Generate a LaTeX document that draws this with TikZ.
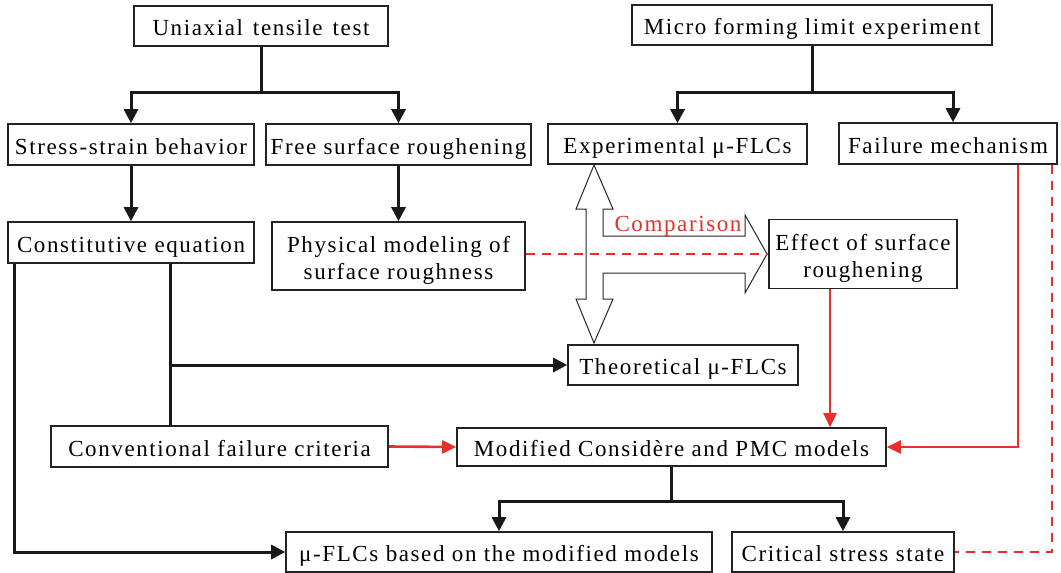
\documentclass[tikz,border=0pt]{standalone}
\usepackage{fontspec}
\setmainfont[LetterSpace=7]{Liberation Serif}
\usetikzlibrary{arrows.meta}
\definecolor{myred}{RGB}{228,50,42}
\definecolor{boxline}{RGB}{35,35,35}
\begin{document}
\begin{tikzpicture}[x=1pt,y=-1pt,
  box/.style={draw=boxline, line width=1.6pt, inner sep=0pt, align=center,
    font=\fontsize{23}{27}\selectfont, text height=20pt, text depth=1pt},
  twoline/.style={text height=47pt, text depth=1pt},
  blk/.style={line width=3pt, black!90},
  conn/.style={blk, -{Triangle[length=14pt,width=14pt]}},
  redconn/.style={line width=2.6pt, myred, -{Triangle[length=14pt,width=13pt]}},
  reddash/.style={line width=2.4pt, myred, dash pattern=on 9pt off 7pt},
  hollow/.style={draw=black!85, line width=1pt, line join=miter}]
\useasboundingbox (0,0) rectangle (1061,573);
\fill[white] (0,0) rectangle (1061,573);

% boxes
\node[box, minimum width=254pt, minimum height=40pt] (uni) at (261,26) {Uniaxial\hspace{10pt}tensile\hspace{10pt}test};
\node[box, minimum width=360pt, minimum height=40pt] (micro) at (812,25) {Micro forming limit experiment};
\node[box, minimum width=246pt, minimum height=41pt] (ss) at (131,144.5) {Stress-strain behavior};
\node[box, minimum width=265pt, minimum height=41pt] (fsr) at (398.5,144.5) {Free surface roughening};
\node[box, minimum width=259pt, minimum height=40pt] (exp) at (677.5,144) {Experimental μ-FLCs};
\node[box, minimum width=218pt, minimum height=41pt] (fail) at (948,143.5) {Failure mechanism};
\node[box, minimum width=246pt, minimum height=41pt] (const) at (131,242.5) {Constitutive equation};
\node[box, twoline, minimum width=253pt, minimum height=68pt] (phys) at (398.5,256) {Physical modeling of\\surface roughness};
\node[box, twoline, minimum width=188pt, minimum height=69pt] (eff) at (863,254) {Effect of surface\\roughening};
\node[box, minimum width=230pt, minimum height=40pt] (theo) at (683,365) {Theoretical μ-FLCs};
\node[box, minimum width=337pt, minimum height=41pt] (conv) at (219.5,446.5) {Conventional failure criteria};
\node[box, minimum width=429pt, minimum height=38pt] (mod) at (671.5,447) {Modified Considère and PMC models};
\node[box, minimum width=426pt, minimum height=40pt] (flcb) at (499,552) {μ-FLCs based on the modified models};
\node[box, minimum width=222pt, minimum height=40pt] (crit) at (843,552) {Critical stress state};

% hollow three-headed arrow
\draw[hollow, fill=white] (594,165) -- (613,209) -- (603,209) -- (603,236) -- (745,236) -- (745,215)
  -- (767,254) -- (745,293) -- (745,273) -- (603,273) -- (603,299) -- (613,299) -- (594,343)
  -- (576,299) -- (586,299) -- (586,209) -- (576,209) -- cycle;
\node[font=\fontsize{23}{27}\selectfont, text=myred, anchor=base, inner sep=0pt] (cmp) at (678,231) {Comparison};

% black connectors
\coordinate (j1) at (261,92);
\draw[blk] (uni.south) -- (j1);
\draw[conn] (j1) -| (ss.north);
\draw[conn] (j1) -| (fsr.north);
\coordinate (j2) at (812,92);
\draw[blk] (micro.south) -- (j2);
\draw[conn] (j2) -| (exp.north);
\draw[conn] (j2) -| ([xshift=5pt]fail.north);
\draw[conn] (ss.south) -- (const.north);
\draw[conn] (fsr.south) -- (phys.north);
\draw[conn] ([xshift=-117pt]const.south) |- (flcb.west);
\draw[blk] ([xshift=39pt]const.south) -- ([xshift=-49.5pt]conv.north);
\coordinate (j3) at (170,365);
\draw[conn] (j3) -- (theo.west);
\coordinate (j5) at (671.5,501);
\draw[blk] (mod.south) -- (j5);
\draw[conn] (j5) -| (flcb.north);
\draw[conn] (j5) -| (crit.north);

% red connectors
\draw[redconn] (conv.east) -- (mod.west);
\coordinate (e1) at ([xshift=-33pt]eff.south);
\draw[redconn] (e1) -- (e1 |- mod.north);
\coordinate (f1) at ([xshift=70pt]fail.south);
\draw[redconn] (f1) |- (mod.east);
\coordinate (f2) at ([xshift=104pt]fail.south);
\draw[reddash] (f2) |- (crit.east);
\draw[reddash] (phys.east |- eff.west) -- (eff.west);
\end{tikzpicture}
\end{document}
